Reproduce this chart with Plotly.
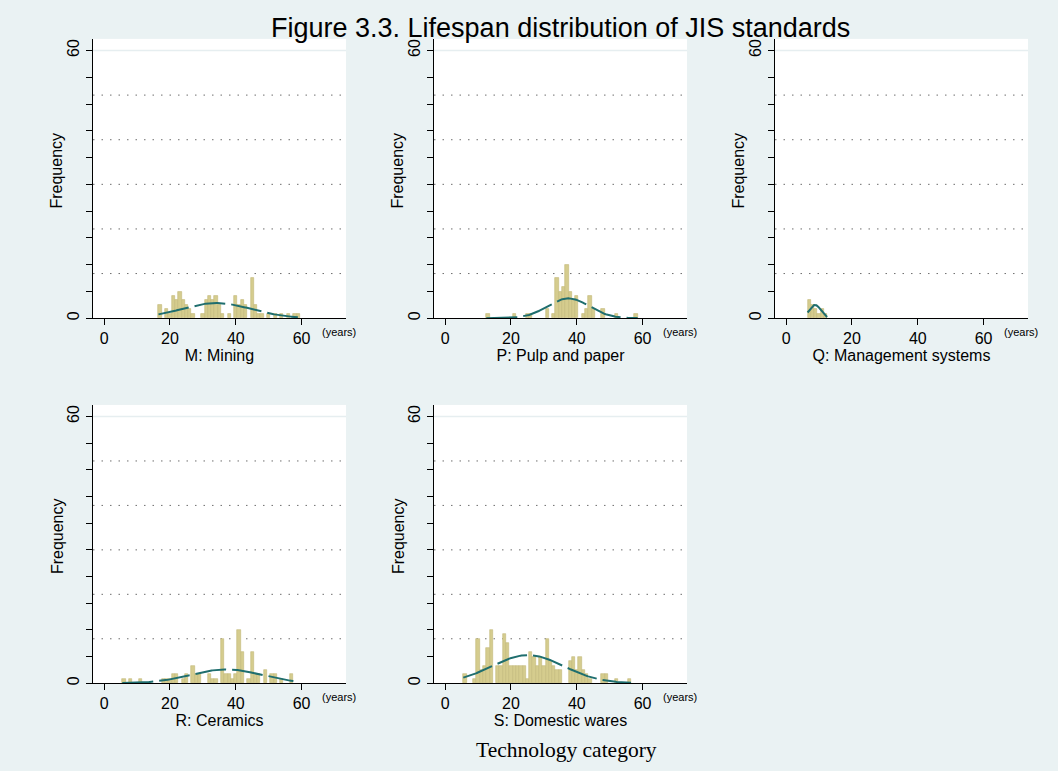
import numpy as np
import plotly.graph_objects as go

# ---------------- data ----------------
fig_title = "Figure 3.3. Lifespan distribution of JIS standards"
x_label = "Technology category"
y_label = "Frequency"
unit_label = "(years)"
panel_names = ["M: Mining", "P: Pulp and paper", "Q: Management systems",
               "R: Ceramics", "S: Domestic wares"]

m_years = [17, 19, 20, 21, 22, 23, 24, 25, 26, 27, 30, 31, 32, 33, 34, 35, 36, 38,
           40, 41, 42, 43, 45, 46, 47, 48, 50, 52, 54, 56, 58, 59]
m_counts = [3, 2, 1, 5, 4, 6, 4, 3, 2, 1, 1, 4, 5, 4, 5, 3, 1, 1,
            5, 3, 4, 3, 9, 3, 1, 1, 1, 1, 1, 1, 1, 1]

p_years = [13, 21, 25, 26, 31, 33, 34, 35, 36, 37, 38, 39, 40, 42, 43, 44, 45, 48, 52, 58]
p_counts = [1, 1, 1, 1, 2, 1, 9, 6, 7, 12, 6, 4, 5, 1, 2, 5, 2, 2, 1, 1]

q_years = [7, 8, 9, 10, 11, 12]
q_counts = [4, 3, 2, 1, 2, 1]

r_years = [6, 8, 11, 18, 19, 20, 21, 22, 24, 25, 27, 28, 29, 32, 33, 34, 36, 37, 38, 39,
           40, 41, 42, 44, 45, 46, 47, 49, 51, 52, 54, 57]
r_counts = [1, 1, 1, 1, 1, 1, 2, 2, 1, 2, 4, 2, 2, 2, 1, 1, 10, 2, 2, 1,
            2, 12, 7, 1, 7, 2, 2, 3, 2, 2, 1, 2]

s_years = [6, 9, 10, 11, 12, 13, 14, 16, 17, 18, 19, 20, 21, 22, 23, 24, 25, 26, 27, 28,
           29, 30, 31, 32, 33, 34, 35, 38, 39, 40, 41, 42, 43, 44, 48, 49, 52, 56]
s_counts = [2, 1, 10, 3, 4, 8, 12, 4, 4, 11, 9, 4, 4, 4, 4, 4, 1, 7, 6, 4,
            6, 4, 10, 5, 4, 3, 3, 5, 6, 3, 6, 3, 2, 1, 2, 2, 1, 1]

x_ticks = [0, 20, 40, 60]
y_ticks = [0, 6, 12, 18, 24, 30, 36, 42, 48, 54, 60]
y_tick_labels = ["0", "", "", "", "", "", "", "", "", "", "60"]
dotted_grid = [10, 20, 30, 40, 50]
solid_grid = [60]

panels = [(m_years, m_counts), (p_years, p_counts), (q_years, q_counts),
          (r_years, r_counts), (s_years, s_counts)]

# ---------------- layout geometry ----------------
W, H = 1058, 771
cols_px = [(93, 346), (434, 687), (775, 1028)]
rows_px = [(39, 319), (406, 685)]
positions = [(0, 0), (0, 1), (0, 2), (1, 0), (1, 1)]

BG = "#eaf2f3"
BAR_FILL = "#d5cc8e"
BAR_LINE = "#c3b979"
CURVE = "#1f6e6e"
FONT = "Liberation Sans, Arial, sans-serif"

fig = go.Figure()
layout = dict(
    width=W, height=H,
    paper_bgcolor=BG, plot_bgcolor="white",
    margin=dict(l=0, r=0, t=0, b=0),
    showlegend=False, bargap=0,
    font=dict(family=FONT, color="black", size=16),
)
shapes = []
annotations = []

for i, ((yrs, cnts), (r, c)) in enumerate(zip(panels, positions)):
    k = i + 1
    xa = "x" if k == 1 else f"x{k}"
    ya = "y" if k == 1 else f"y{k}"
    x0, x1 = cols_px[c]
    y0, y1 = rows_px[r]

    fig.add_trace(go.Bar(
        x=yrs, y=cnts, width=1, xaxis=xa, yaxis=ya,
        marker=dict(color=BAR_FILL, line=dict(color=BAR_LINE, width=0.6)),
        hoverinfo="x+y",
    ))

    # normal density scaled to frequencies (as Stata's "histogram, normal")
    yv = np.array(yrs, dtype=float)
    cv = np.array(cnts, dtype=float)
    n = cv.sum()
    mu = (yv * cv).sum() / n
    sd = np.sqrt((cv * (yv - mu) ** 2).sum() / (n - 1))
    xs = np.linspace(yv.min() - 0.5, yv.max() + 0.5, 200)
    dens = n * 1.0 * np.exp(-0.5 * ((xs - mu) / sd) ** 2) / (sd * np.sqrt(2 * np.pi))
    fig.add_trace(go.Scatter(
        x=xs, y=dens, mode="lines", xaxis=xa, yaxis=ya,
        line=dict(color=CURVE, width=2, dash="31px,6px"),
        hoverinfo="skip",
    ))

    xkey = "xaxis" if k == 1 else f"xaxis{k}"
    ykey = "yaxis" if k == 1 else f"yaxis{k}"
    layout[xkey] = dict(
        domain=[x0 / W, x1 / W], anchor=ya, range=[-3.4, 73.5],
        tickmode="array", tickvals=x_ticks, ticks="outside", ticklen=6,
        tickcolor="black", showline=True, linecolor="black", linewidth=1,
        showgrid=False, zeroline=False, tickfont=dict(size=16),
        title=dict(text=panel_names[i], font=dict(size=16), standoff=0),
        fixedrange=True,
    )
    layout[ykey] = dict(
        domain=[1 - y1 / H, 1 - y0 / H], anchor=xa, range=[0, 62.6],
        tickmode="array", tickvals=y_ticks, ticktext=y_tick_labels,
        tickangle=-90, ticks="outside", ticklen=6, tickcolor="black",
        showline=True, linecolor="black", linewidth=1.3,
        showgrid=False, zeroline=False, tickfont=dict(size=16),
        fixedrange=True,
    )
    # y-axis title placed as an annotation (slightly above the centre, as in the original)
    annotations.append(dict(text=y_label, textangle=-90, xref="paper", yref="paper",
                            x=(x0 - 36) / W, y=1 - ((y0 + y1) / 2 - 8) / H,
                            xanchor="center", yanchor="middle", showarrow=False,
                            font=dict(size=16, family=FONT)))
    for g in dotted_grid:
        shapes.append(dict(type="line", xref=f"{xa} domain", yref=ya,
                           x0=0, x1=1, y0=g, y1=g, layer="below",
                           line=dict(color="#6e6e6e", width=1, dash="1.5px,7px")))
    for g in solid_grid:
        shapes.append(dict(type="line", xref=f"{xa} domain", yref=ya,
                           x0=0, x1=1, y0=g, y1=g, layer="below",
                           line=dict(color="#e6eef0", width=1.5)))
    annotations.append(dict(text=unit_label, xref=f"{xa} domain", yref=f"{ya} domain",
                            x=1.0, y=0, xanchor="center", yanchor="top",
                            xshift=-7, yshift=-6,
                            showarrow=False, font=dict(size=11, family=FONT)))

annotations.append(dict(text=fig_title, xref="paper", yref="paper", x=560 / W,
                        y=1 - 28 / H, xanchor="center", yanchor="middle",
                        showarrow=False, font=dict(size=27, family=FONT)))
annotations.append(dict(text=x_label, xref="paper", yref="paper", x=566 / W,
                        y=1 - 752 / H, xanchor="center", yanchor="middle",
                        showarrow=False,
                        font=dict(size=21.5, family="Liberation Serif, Times New Roman, serif")))

layout["shapes"] = shapes
layout["annotations"] = annotations
fig.update_layout(**layout)
fig.write_html("out.html", config={"displayModeBar": False},
               post_script="document.body.style.margin='0';")
